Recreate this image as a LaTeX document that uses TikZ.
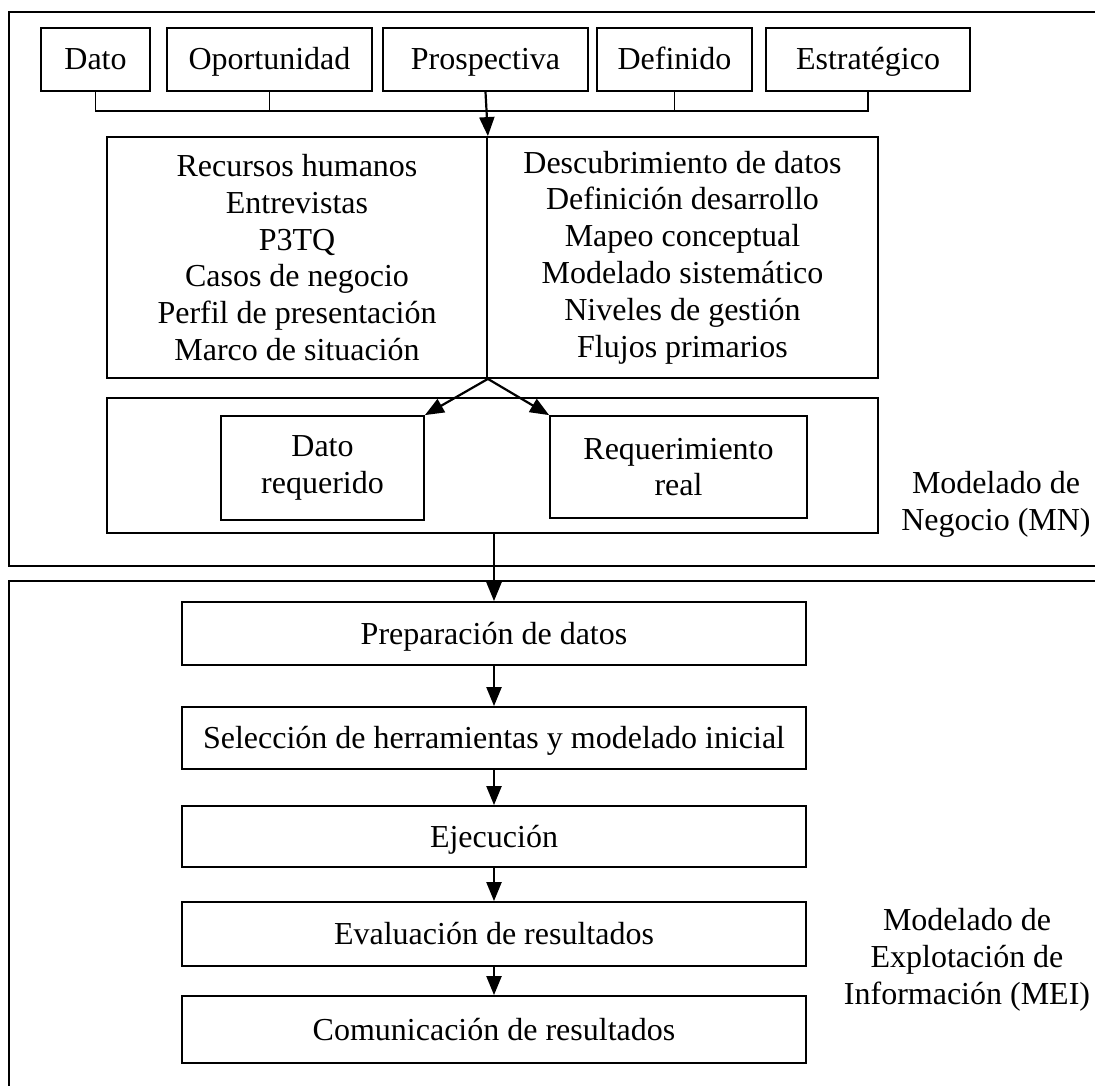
\documentclass[tikz,border=0pt]{standalone}
\usepackage{fontspec}
\setmainfont{Liberation Serif}
\usetikzlibrary{arrows.meta}
\begin{document}
\begin{tikzpicture}[x=1pt,y=-1pt,
  txt/.style={font=\fontsize{32}{36.8}\selectfont, align=center, inner sep=0pt},
  box/.style={txt, draw, line width=1.8pt, rectangle},
  tbox/.style={box, text height=21pt, text depth=0pt},
  frame/.style={draw, line width=2.2pt, rectangle, inner sep=0pt},
  arr/.style={line width=2.2pt, -{Triangle[length=19pt,width=15pt]}},
  conn/.style={line width=1.8pt}]
\useasboundingbox (0,0) rectangle (1095,1086);
\clip (0,0) rectangle (1095,1086);
% outer frames
\node[frame, minimum width=1101pt, minimum height=554pt] (mn) at (559.5,289) {};
\node[frame, minimum width=1101pt, minimum height=540pt] (mei) at (559.5,851) {};
% top boxes
\node[tbox, minimum width=109pt, minimum height=63pt] (dato) at (95.5,59.5) {Dato};
\node[tbox, minimum width=205pt, minimum height=63pt] (opor) at (269.5,59.5) {Oportunidad};
\node[tbox, minimum width=205pt, minimum height=63pt] (prosp) at (485.5,59.5) {Prospectiva};
\node[tbox, minimum width=155pt, minimum height=63pt] (defi) at (674.5,59.5) {Definido};
\node[tbox, minimum width=204pt, minimum height=63pt] (estr) at (868,59.5) {Estratégico};
\coordinate (bar) at (0,111);
% big box
\node[box, minimum width=380pt, minimum height=241pt] (lcol) at (297,257.5)
  {Recursos humanos\\Entrevistas\\P3TQ\\Casos de negocio\\Perfil de presentación\\Marco de situación};
\node[box, minimum width=391pt, minimum height=241pt] (rcol) at (682.5,257.5)
  {Descubrimiento de datos\\Definición desarrollo\\Mapeo conceptual\\Modelado sistemático\\Niveles de gestión\\Flujos primarios};
% second box
\node[box, minimum width=771pt, minimum height=135pt] (reqbox) at (492.5,465.5) {};
\node[box, minimum width=203pt, minimum height=104pt] (dreq) at (322.5,468) {Dato\\requerido};
\node[box, minimum width=257pt, minimum height=102pt] (rreq) at (678.5,467) {Requerimiento\\real};
% MEI steps
\node[tbox, minimum width=624pt, minimum height=63pt] (prep) at (494,633.5) {Preparación de datos};
\node[tbox, minimum width=624pt, minimum height=62pt] (sel) at (494,738) {Selección de herramientas y modelado inicial};
\node[tbox, minimum width=624pt, minimum height=61pt] (eje) at (494,836.5) {Ejecución};
\node[tbox, minimum width=624pt, minimum height=64pt] (eva) at (494,934) {Evaluación de resultados};
\node[tbox, minimum width=624pt, minimum height=67pt] (com) at (494,1029.5) {Comunicación de resultados};
% labels
\node[txt] (mnlab) at (996,504) {Modelado de\\Negocio (MN)};
\node[txt] (meilab) at (967,960) {Modelado de\\Explotación de\\Información (MEI)};
% bracket
\draw[conn] (dato.south) -- (dato.south |- bar) -- (estr.south |- bar) -- (estr.south);
\draw[conn] (opor.south) -- (opor.south |- bar);
\draw[conn] (defi.south) -- (defi.south |- bar);
% arrows
\draw[arr] (prosp.south) -- (lcol.north east);
\draw[arr] (lcol.south east) -- (dreq.north east);
\draw[arr] (lcol.south east) -- (rreq.north west);
\draw[arr] (reqbox.south -| prep.north) -- (prep.north);
\draw[arr] (prep.south) -- (sel.north);
\draw[arr] (sel.south) -- (eje.north);
\draw[arr] (eje.south) -- (eva.north);
\draw[arr] (eva.south) -- (com.north);
\end{tikzpicture}
\end{document}
